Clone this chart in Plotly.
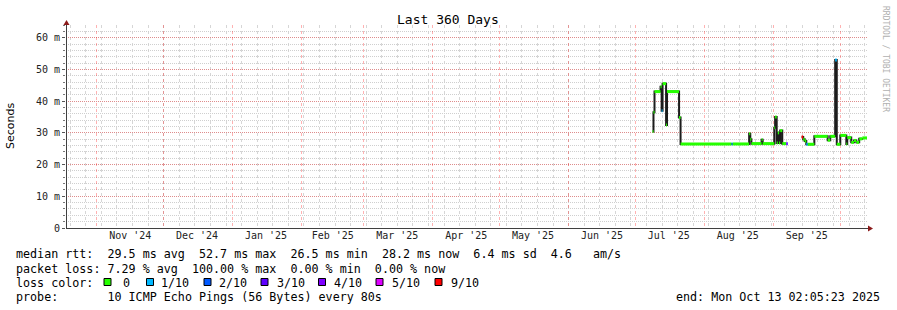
import plotly.graph_objects as go

# ---------------- data ----------------
times = [
    "2025-07-08 17:00", "2025-07-09 03:00", "2025-07-09 14:00", "2025-07-12 07:00",
    "2025-07-12 19:00", "2025-07-13 05:00", "2025-07-14 19:00", "2025-07-15 05:00",
    "2025-07-20 15:00", "2025-07-21 07:00", "2025-08-13 05:00", "2025-08-13 17:00",
    "2025-08-21 03:00", "2025-08-21 15:00", "2025-08-22 03:00", "2025-08-26 17:00",
    "2025-08-27 05:00", "2025-09-01 10:00", "2025-09-01 19:00", "2025-09-02 12:00",
    "2025-09-03 00:00", "2025-09-03 14:00", "2025-09-04 02:00", "2025-09-05 00:00",
    "2025-09-06 19:00", "2025-09-07 12:00", "2025-09-13 17:00", "2025-09-14 10:00",
    "2025-09-15 02:00", "2025-09-15 19:00", "2025-09-16 10:00", "2025-09-19 10:00",
    "2025-09-25 10:00", "2025-09-26 14:00", "2025-09-28 19:00", "2025-09-29 12:00",
    "2025-10-01 02:00", "2025-10-03 19:00", "2025-10-04 05:00", "2025-10-06 00:00",
    "2025-10-07 05:00", "2025-10-08 07:00", "2025-10-09 14:00", "2025-10-11 00:00",
]
rtt_ms = [
    30.4, 36.5, 43.0, 44.5,
    37.0, 45.5, 32.5, 43.0,
    34.8, 26.5, 26.5, 26.5,
    29.7, 28.0, 26.6, 27.8,
    26.6, 31.6, 35.0, 26.8,
    30.0, 26.8, 30.7, 26.6,
    26.6, None, 28.7, 28.0,
    27.4, 26.4, 26.4, 28.9,
    27.7, 28.9, 53.0, 26.4,
    29.2, 26.5, 28.5, 27.0,
    27.6, 27.0, 28.1, 28.4,
]
loss_tenths = [
    0, 0, 0, 0,
    1, 0, 0, 0,
    0, 0, 1, 0,
    0, 0, 0, 0,
    0, 0, 0, 0,
    0, 0, 0, 0,
    3, 0, 9, 0,
    0, 1, 0, 0,
    0, 0, 1, 0,
    0, 0, 0, 0,
    0, 0, 0, 0,
]
range_start = "2024-10-18 02:05:23"
range_end = "2025-10-13 02:05:23"

month_starts = [
    "2024-11-01", "2024-12-01", "2025-01-01", "2025-02-01", "2025-03-01", "2025-04-01",
    "2025-05-01", "2025-06-01", "2025-07-01", "2025-08-01", "2025-09-01", "2025-10-01",
]
month_label_pos = [
    "2024-11-16", "2024-12-16", "2025-01-16", "2025-02-15", "2025-03-16", "2025-04-16",
    "2025-05-16", "2025-06-16", "2025-07-16", "2025-08-16", "2025-09-16",
]
month_labels = [
    "Nov '24", "Dec '24", "Jan '25", "Feb '25", "Mar '25", "Apr '25",
    "May '25", "Jun '25", "Jul '25", "Aug '25", "Sep '25",
]

loss_levels = [0, 1, 2, 3, 4, 5, 9]
loss_labels = ["0", "1/10", "2/10", "3/10", "4/10", "5/10", "9/10"]
loss_colors = ["#26ff00", "#00b8ff", "#0059ff", "#5e00ff", "#7e00ff", "#dd00ff", "#ff0000"]

y_tick_vals = [0, 10, 20, 30, 40, 50, 60]
y_tick_text = ["0", "10 m", "20 m", "30 m", "40 m", "50 m", "60 m"]

legend_lines = [
    "median rtt:  29.5 ms avg  52.7 ms max  26.5 ms min  28.2 ms now  6.4 ms sd  4.6   am/s",
    "packet loss: 7.29 % avg  100.00 % max  0.00 % min  0.00 % now",
]
probe_line = "probe:       10 ICMP Echo Pings (56 Bytes) every 80s"
end_text = "end: Mon Oct 13 02:05:23 2025"

# ---------------- layout helpers ----------------
W, H = 897, 310
L, R, T, B = 66, 30, 25, 82
PW, PH = W - L - R, H - T - B


def px(x):
    return (x - L) / PW


def py(y):
    return (H - B - y) / PH


MONO = "DejaVu Sans Mono"
MAJOR_GRID = "rgba(255,0,0,0.32)"
MAJOR_GRID_V = "rgba(255,0,0,0.30)"
MINOR_GRID = "#cfcfcf"
MINOR_GRID_V = "#d6d6d6"
DASH = "1px,1px"

fig = go.Figure()

# dark median / smoke step line
fig.add_trace(go.Scatter(
    x=times, y=rtt_ms, mode="lines",
    line=dict(shape="hv", color="#1c1c1c", width=2),
    connectgaps=False, hoverinfo="skip",
))

# loss-coloured median segments
ends = times[1:] + [range_end]
for lvl, col in zip(loss_levels, loss_colors):
    xs, ys = [], []
    for t0, t1, v, l in zip(times, ends, rtt_ms, loss_tenths):
        if v is None or l != lvl:
            continue
        xs += [t0, t1, None]
        ys += [v, v, None]
    if xs:
        fig.add_trace(go.Scatter(
            x=xs, y=ys, mode="lines",
            line=dict(color=col, width=3),
            connectgaps=False, hoverinfo="skip",
        ))

# invisible trace to carry the label axis
fig.add_trace(go.Scatter(x=[range_start, range_end], y=[None, None], xaxis="x2",
                         mode="lines", hoverinfo="skip", showlegend=False))

fig.update_layout(
    width=W, height=H,
    margin=dict(l=L, r=R, t=T, b=B, pad=0),
    paper_bgcolor="white", plot_bgcolor="white",
    showlegend=False,
    font=dict(family=MONO, size=10, color="#222"),
    xaxis=dict(
        type="date", range=[range_start, range_end],
        tickmode="array", tickvals=month_starts, ticktext=[""] * len(month_starts),
        showticklabels=False,
        showgrid=True, gridcolor=MAJOR_GRID_V, griddash="dot", gridwidth=1,
        ticks="", showline=False, zeroline=False,
        minor=dict(dtick=7 * 86400000, tick0="2024-10-20", showgrid=True,
                   gridcolor=MINOR_GRID_V, griddash="dot", gridwidth=1),
    ),
    xaxis2=dict(
        type="date", range=[range_start, range_end], overlaying="x", side="bottom",
        tickmode="array", tickvals=month_label_pos, ticktext=month_labels,
        showgrid=False, ticks="", showline=False, zeroline=False,
        tickfont=dict(family=MONO, size=10, color="#222"),
    ),
    yaxis=dict(
        range=[0, 64], tickvals=y_tick_vals, ticktext=y_tick_text,
        showgrid=True, gridcolor=MAJOR_GRID, griddash=DASH, gridwidth=1,
        ticks="outside", ticklen=3, tickcolor="#555", showline=False, zeroline=False,
        tickfont=dict(family=MONO, size=10, color="#222"),
        minor=dict(dtick=2, showgrid=True, gridcolor=MINOR_GRID, griddash=DASH,
                   ticks="outside", ticklen=2, tickcolor="#777"),
    ),
)

shapes = []
# axis lines with arrows
shapes.append(dict(type="line", xref="paper", yref="paper",
                   x0=px(66.5), x1=px(869), y0=py(228.5), y1=py(228.5),
                   line=dict(color="#404040", width=1)))
shapes.append(dict(type="line", xref="paper", yref="paper",
                   x0=px(66.5), x1=px(66.5), y0=py(229), y1=py(24),
                   line=dict(color="#404040", width=1)))
shapes.append(dict(type="path", xref="paper", yref="paper",
                   path=f"M {px(868)} {py(225.5)} L {px(873)} {py(228.5)} L {px(868)} {py(231.5)} Z",
                   fillcolor="#8b1a1a", line=dict(color="#8b1a1a", width=0)))
shapes.append(dict(type="path", xref="paper", yref="paper",
                   path=f"M {px(63.5)} {py(25)} L {px(66.5)} {py(20)} L {px(69.5)} {py(25)} Z",
                   fillcolor="#8b1a1a", line=dict(color="#8b1a1a", width=0)))

annotations = []


def txt(text, x, y, size=11.7, xanchor="left", color="#000", family=MONO, angle=0):
    annotations.append(dict(text=text, x=px(x), y=py(y), xref="paper", yref="paper",
                            xanchor=xanchor, yanchor="middle", showarrow=False,
                            textangle=angle, borderpad=0,
                            font=dict(family=family, size=size, color=color)))


txt("Last 360 Days", 448, 19, size=13, xanchor="center")
txt("Seconds", 11, 126, size=11, xanchor="center", family="DejaVu Sans", angle=-90)
txt("RRDTOOL / TOBI OETIKER", 886, 59, size=8, xanchor="center", color="#b0b0b0", angle=90)

for i, line in enumerate(legend_lines):
    txt(line, 15, [254, 268.5][i])
txt("loss color:", 15, 282.5)

sq_x = [104, 146.5, 204, 261, 318.5, 376, 435]
lbl_x = [122, 160, 218, 276, 333, 391, 450]
for lab, col, sx, lx in zip(loss_labels, loss_colors, sq_x, lbl_x):
    shapes.append(dict(type="rect", xref="paper", yref="paper",
                       x0=px(sx), x1=px(sx + 7), y0=py(285.5), y1=py(278.5),
                       fillcolor=col, line=dict(color="#000", width=1)))
    txt(lab, lx, 282.5)

txt(probe_line, 15, 297)
txt(end_text, 881, 297, xanchor="right")

fig.update_layout(shapes=shapes, annotations=annotations)
fig.write_html("out.html")
